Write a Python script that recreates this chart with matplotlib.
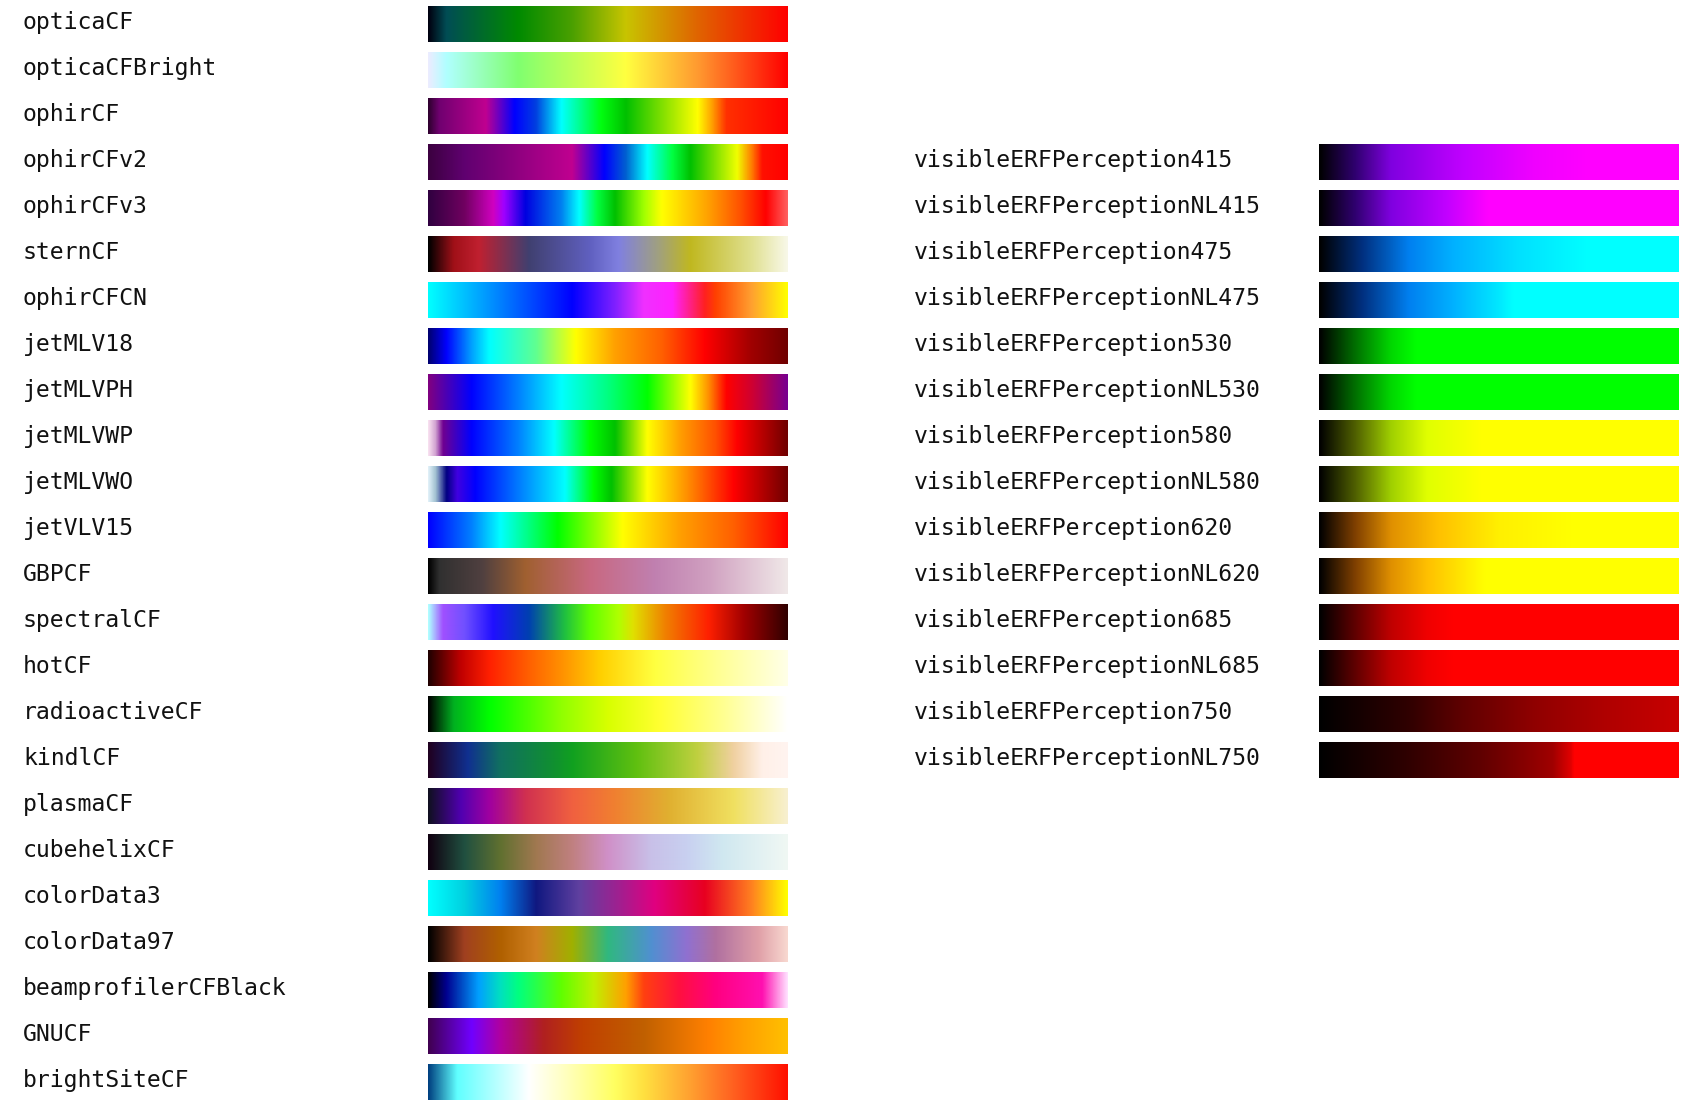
import numpy as np
import matplotlib
matplotlib.use("Agg")
import matplotlib.pyplot as plt
from matplotlib.colors import LinearSegmentedColormap

left_names = ["opticaCF", "opticaCFBright", "ophirCF", "ophirCFv2", "ophirCFv3", "sternCF",
              "ophirCFCN", "jetMLV18", "jetMLVPH", "jetMLVWP", "jetMLVWO", "jetVLV15",
              "GBPCF", "spectralCF", "hotCF", "radioactiveCF", "kindlCF", "plasmaCF",
              "cubehelixCF", "colorData3", "colorData97", "beamprofilerCFBlack", "GNUCF",
              "brightSiteCF"]

left_stops = [
    [(0, '#000010'), (0.05, '#004d55'), (0.25, '#008a00'), (0.40, '#4aa000'), (0.55, '#c8c400'), (0.75, '#e06400'), (1, '#ff0000')],
    [(0, '#ececff'), (0.05, '#b0ffff'), (0.25, '#80ff70'), (0.55, '#ffff40'), (0.75, '#ff9a30'), (1, '#ff0000')],
    [(0, '#300030'), (0.03, '#700070'), (0.16, '#c00090'), (0.24, '#0000ff'), (0.30, '#0040e0'), (0.37, '#00ffff'),
     (0.48, '#00ff10'), (0.55, '#00c000'), (0.75, '#ffff00'), (0.79, '#ffa000'), (0.83, '#ff3000'), (1, '#ff0000')],
    [(0, '#3c0040'), (0.10, '#600070'), (0.25, '#900080'), (0.40, '#c00090'), (0.49, '#0000ff'), (0.55, '#0060d0'),
     (0.61, '#00ffff'), (0.68, '#00ff40'), (0.73, '#00c000'), (0.86, '#f0ff00'), (0.90, '#ff8000'), (0.93, '#ff1000'), (1, '#ff0000')],
    [(0, '#300040'), (0.10, '#700060'), (0.18, '#d000c0'), (0.21, '#a000ff'), (0.27, '#0000e0'), (0.37, '#0080f0'),
     (0.42, '#00ffff'), (0.47, '#00ff40'), (0.52, '#00c000'), (0.60, '#a0ff00'), (0.65, '#ffff00'), (0.78, '#ffa000'),
     (0.87, '#ff5000'), (0.94, '#ff0000'), (1, '#ff6060')],
    [(0, '#000000'), (0.07, '#a01018'), (0.14, '#c02030'), (0.28, '#404070'), (0.45, '#6060c0'), (0.53, '#8080e0'),
     (0.64, '#a0a080'), (0.73, '#c0b820'), (0.90, '#e0e090'), (1, '#f8f8e8')],
    [(0, '#00ffff'), (0.15, '#00a0ff'), (0.30, '#0040ff'), (0.40, '#0000ff'), (0.52, '#8020ff'), (0.60, '#f030ff'),
     (0.68, '#ff20ff'), (0.77, '#ff2020'), (0.80, '#ff4000'), (0.90, '#ffa030'), (1, '#ffff00')],
    [(0, '#000070'), (0.05, '#0000ff'), (0.12, '#00a0ff'), (0.17, '#00ffff'), (0.30, '#60ff90'), (0.41, '#ffff00'),
     (0.52, '#ffa000'), (0.65, '#ff6000'), (0.77, '#ff0000'), (0.90, '#a00000'), (1, '#700000')],
    [(0, '#800080'), (0.12, '#0000ff'), (0.25, '#0080ff'), (0.37, '#00ffff'), (0.50, '#00ff80'), (0.61, '#00ff00'),
     (0.67, '#80ff00'), (0.73, '#ffff00'), (0.78, '#ff9000'), (0.83, '#ff0000'), (0.90, '#d00030'), (1, '#780090')],
    [(0, '#f8e0f0'), (0.02, '#d0a0d0'), (0.04, '#700090'), (0.12, '#0000ff'), (0.25, '#0080ff'), (0.35, '#00ffff'),
     (0.45, '#00ff00'), (0.52, '#00c000'), (0.61, '#ffff00'), (0.70, '#ffa000'), (0.80, '#ff5000'), (0.86, '#ff0000'), (1, '#700000')],
    [(0, '#e0f0f8'), (0.02, '#a0c0d0'), (0.05, '#000080'), (0.08, '#4000e0'), (0.13, '#0000ff'), (0.38, '#00ffff'),
     (0.46, '#00ff00'), (0.51, '#00c000'), (0.61, '#ffff00'), (0.72, '#ff9000'), (0.85, '#ff0000'), (1, '#700000')],
    [(0, '#0000ff'), (0.12, '#0080ff'), (0.20, '#00ffff'), (0.36, '#00ff00'), (0.54, '#ffff00'), (0.70, '#ffa000'),
     (0.85, '#ff6000'), (1, '#ff0000')],
    [(0, '#000000'), (0.03, '#303030'), (0.15, '#504040'), (0.27, '#a06030'), (0.45, '#c86880'), (0.63, '#c080b0'),
     (0.78, '#d0a0c0'), (1, '#f0e8e8')],
    [(0, '#b0ffff'), (0.04, '#a050ff'), (0.10, '#7050ff'), (0.18, '#2010ff'), (0.28, '#0040b0'), (0.38, '#20c040'),
     (0.45, '#60ff00'), (0.53, '#b0ff00'), (0.57, '#e0e000'), (0.66, '#f08000'), (0.78, '#ff2000'), (0.88, '#a00000'), (1, '#300000')],
    [(0, '#200000'), (0.09, '#c00000'), (0.17, '#ff2000'), (0.28, '#ff6000'), (0.37, '#ff9000'), (0.48, '#ffd000'),
     (0.63, '#ffff40'), (0.80, '#ffff90'), (1, '#ffffe8')],
    [(0, '#000000'), (0.07, '#00b020'), (0.17, '#00ff00'), (0.37, '#90ff00'), (0.50, '#d8ff00'), (0.64, '#ffff30'),
     (0.82, '#ffff90'), (1, '#ffffff')],
    [(0, '#200020'), (0.11, '#103090'), (0.20, '#107060'), (0.35, '#109030'), (0.40, '#10a020'), (0.58, '#60c010'),
     (0.75, '#c0d040'), (0.85, '#f0d0a0'), (0.93, '#fff0e8'), (1, '#fff4f0')],
    [(0, '#101020'), (0.09, '#5000b0'), (0.17, '#a000a0'), (0.27, '#d03050'), (0.40, '#f06040'), (0.52, '#f08030'),
     (0.67, '#e0b030'), (0.85, '#f0e060'), (1, '#f8f0d0')],
    [(0, '#100010'), (0.10, '#205040'), (0.20, '#607030'), (0.30, '#a07850'), (0.40, '#c08080'), (0.50, '#d090c8'),
     (0.62, '#c8c0e8'), (0.72, '#c8d0f0'), (0.82, '#d0e8f0'), (1, '#f0f8f4')],
    [(0, '#00ffff'), (0.10, '#00d0e0'), (0.20, '#0080f0'), (0.30, '#101880'), (0.42, '#6040a0'), (0.53, '#a02090'),
     (0.63, '#e00080'), (0.77, '#e80020'), (0.90, '#ff8020'), (1, '#ffff00')],
    [(0, '#000000'), (0.10, '#a04020'), (0.20, '#b06000'), (0.30, '#d08020'), (0.40, '#a0b000'), (0.50, '#30b880'),
     (0.62, '#5090d0'), (0.72, '#9070d0'), (0.80, '#b070a0'), (0.92, '#e0a0a8'), (1, '#f8d8d0')],
    [(0, '#000000'), (0.05, '#000090'), (0.14, '#00a0ff'), (0.20, '#00e0c0'), (0.25, '#00ff80'), (0.37, '#60ff00'),
     (0.46, '#c0f000'), (0.55, '#ffa000'), (0.60, '#ff4010'), (0.70, '#ff1040'), (0.80, '#ff0080'), (0.93, '#ff10b0'), (1, '#ffe0ff')],
    [(0, '#400050'), (0.12, '#7000ff'), (0.20, '#b000a0'), (0.32, '#b02020'), (0.43, '#c04000'), (0.60, '#c06000'),
     (0.78, '#ff8000'), (0.88, '#ffa000'), (1, '#ffc000')],
    [(0, '#004080'), (0.04, '#30a0c0'), (0.08, '#60ffff'), (0.22, '#d0ffff'), (0.28, '#ffffff'), (0.38, '#ffffc0'),
     (0.52, '#ffff60'), (0.60, '#ffe040'), (0.73, '#ffa030'), (0.85, '#ff6020'), (1, '#ff1000')],
]

right_names = ["visibleERFPerception415", "visibleERFPerceptionNL415",
               "visibleERFPerception475", "visibleERFPerceptionNL475",
               "visibleERFPerception530", "visibleERFPerceptionNL530",
               "visibleERFPerception580", "visibleERFPerceptionNL580",
               "visibleERFPerception620", "visibleERFPerceptionNL620",
               "visibleERFPerception685", "visibleERFPerceptionNL685",
               "visibleERFPerception750", "visibleERFPerceptionNL750"]

right_stops = [
    [(0, '#000000'), (0.10, '#300070'), (0.20, '#8000e0'), (0.40, '#c000ff'), (0.60, '#f000ff'), (0.75, '#ff00ff'), (1, '#ff00ff')],
    [(0, '#000000'), (0.10, '#300070'), (0.20, '#8000e0'), (0.35, '#c000ff'), (0.47, '#ff00ff'), (1, '#ff00ff')],
    [(0, '#000000'), (0.12, '#003080'), (0.25, '#0080f0'), (0.37, '#00b0ff'), (0.55, '#00e0ff'), (0.75, '#00ffff'), (1, '#00ffff')],
    [(0, '#000000'), (0.12, '#003080'), (0.25, '#0080f0'), (0.37, '#00b0ff'), (0.50, '#00e8ff'), (0.54, '#00ffff'), (1, '#00ffff')],
    [(0, '#000000'), (0.10, '#007000'), (0.20, '#00d800'), (0.27, '#00ff00'), (1, '#00ff00')],
    [(0, '#000000'), (0.10, '#007000'), (0.20, '#00d800'), (0.27, '#00ff00'), (1, '#00ff00')],
    [(0, '#000000'), (0.10, '#506000'), (0.20, '#a0d000'), (0.30, '#e0ff00'), (0.45, '#ffff00'), (1, '#ffff00')],
    [(0, '#000000'), (0.10, '#506000'), (0.20, '#a0d000'), (0.30, '#e0ff00'), (0.45, '#ffff00'), (1, '#ffff00')],
    [(0, '#000000'), (0.10, '#804000'), (0.20, '#e09000'), (0.33, '#ffc000'), (0.50, '#fff000'), (0.70, '#ffff00'), (1, '#ffff00')],
    [(0, '#000000'), (0.10, '#804000'), (0.20, '#e09000'), (0.30, '#ffc000'), (0.46, '#ffff00'), (1, '#ffff00')],
    [(0, '#000000'), (0.10, '#600000'), (0.20, '#c00000'), (0.30, '#f00000'), (0.37, '#ff0000'), (1, '#ff0000')],
    [(0, '#000000'), (0.10, '#600000'), (0.20, '#c00000'), (0.30, '#f00000'), (0.37, '#ff0000'), (1, '#ff0000')],
    [(0, '#000000'), (0.25, '#300000'), (0.40, '#600000'), (0.60, '#900000'), (0.80, '#b00000'), (1, '#c80000')],
    [(0, '#000000'), (0.25, '#300000'), (0.45, '#600000'), (0.65, '#a00000'), (0.70, '#e00000'), (0.71, '#ff0000'), (1, '#ff0000')],
]
right_first_row = 3

# layout (pixels)
W, H = 1706, 1108
row_pitch = 46
bar_top0 = 6
bar_h = 36
left_label_x = 23
left_bar_x = (428, 788)
right_label_x = 914
right_bar_x = (1319, 1679)

fig = plt.figure(figsize=(W / 100, H / 100), dpi=100)
ax = fig.add_axes([0, 0, 1, 1])
ax.set_xlim(0, W)
ax.set_ylim(H, 0)
ax.axis('off')

grad = np.linspace(0, 1, 720).reshape(1, -1)
font = dict(family='DejaVu Sans Mono', fontsize=16.7, color='#111111')


def draw(names, stops, label_x, bar_x, first_row):
    for k, (name, st) in enumerate(zip(names, stops)):
        r = first_row + k
        top = bar_top0 + r * row_pitch
        cmap = LinearSegmentedColormap.from_list(name, st, N=512)
        ax.imshow(grad, cmap=cmap, aspect='auto', interpolation='bilinear',
                  extent=[bar_x[0], bar_x[1], top + bar_h, top])
        ax.text(label_x, top + bar_h / 2 + 5, name, va='baseline', ha='left', **font)


draw(left_names, left_stops, left_label_x, left_bar_x, 0)
draw(right_names, right_stops, right_label_x, right_bar_x, right_first_row)
ax.set_xlim(0, W)
ax.set_ylim(H, 0)

fig.savefig('out.png', dpi=100, facecolor='white')
